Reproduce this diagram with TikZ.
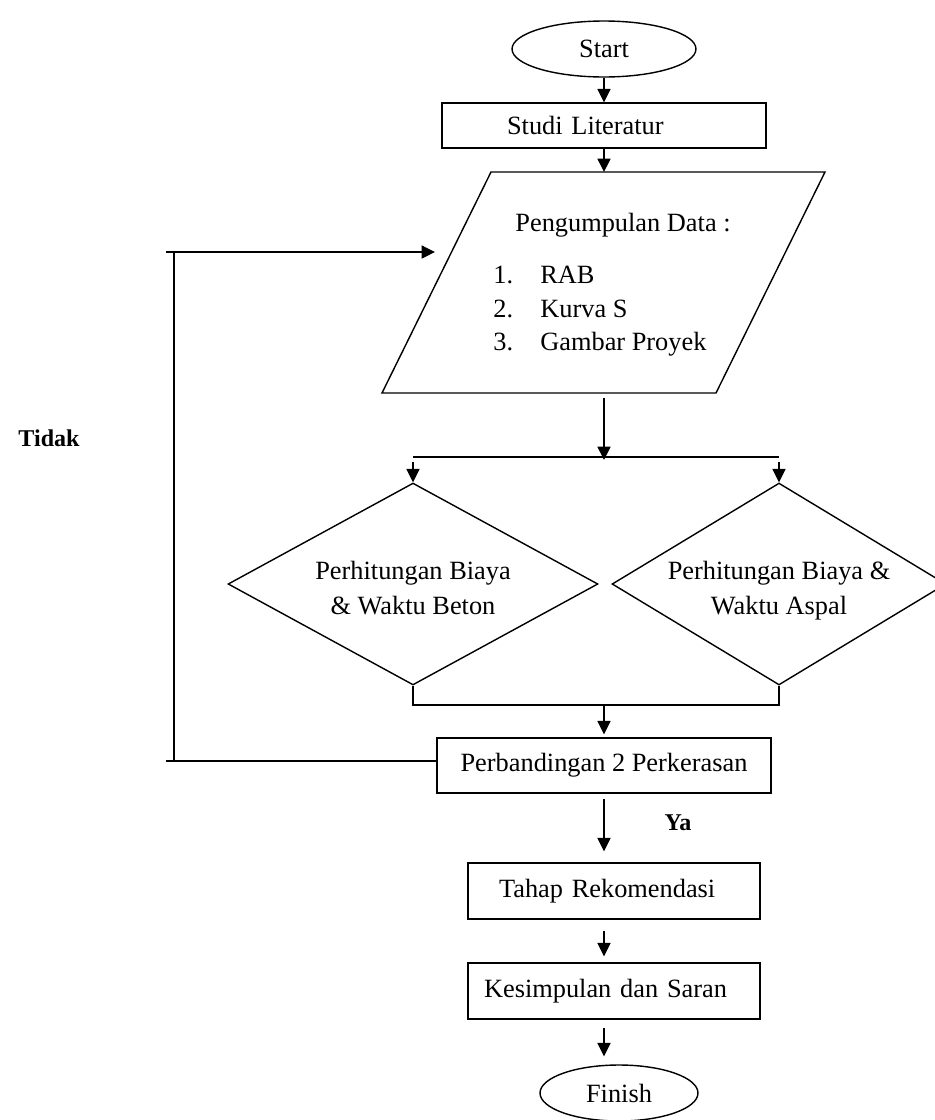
\documentclass[tikz,border=0pt]{standalone}
\usepackage{fontspec}
\setmainfont{Liberation Serif}
\usetikzlibrary{arrows.meta, shapes.geometric}
\newcommand{\fsz}{\fontsize{15}{19.5}\selectfont}
\newcommand{\fsl}{\fontsize{15}{19}\selectfont}
\newcommand{\fsb}{\fontsize{13.7}{16}\selectfont}
\tikzset{
  LN/.style={line width=0.8pt},
  AR/.style={line width=0.8pt, -{Triangle[length=7.6pt, width=7.4pt]}},
  TM/.style={draw, LN, ellipse, inner sep=0pt, font=\fsz},
  BX/.style={draw, LN, rectangle, inner sep=0pt, font=\fsz},
  DC/.style={draw, LN, diamond, inner sep=0pt, align=center, font=\fsz,
             text height=34.3pt, text depth=-4.3pt},
  LB/.style={font={\fsb\bfseries}},
}

\begin{document}
\begin{tikzpicture}[x=0.02cm, y=-0.02cm]
\useasboundingbox (0,0) rectangle (935,1120);

%% ================================================================
%%  START -- INPUT DATA
%% ================================================================
\coordinate (col) at (604,0);

\node[TM, minimum width=3.68cm, minimum height=1.12cm] (start) at (604,49) {Start};
\node[BX, minimum height=0.9cm, text width=3.88cm, inner xsep=1.3cm, align=left]
  (studi) at (604,125.5) {Studi Literatur};

% input parallelogram
\coordinate (dBL) at (382,393);
\coordinate (dTL) at (491,172);
\coordinate (dTR) at (825,172);
\coordinate (dBR) at (716,393);
\draw[LN] (dBL) -- (dTL) -- (dTR) -- (dBR) -- cycle;
\node[font=\fsz] (dtitle) at (623,225) {Pengumpulan Data :};
\node[font=\fsl, anchor=west, align=left, inner sep=0pt] (dlist) at (493,311.5)
  {\makebox[0.94cm][l]{1.}RAB\\ \makebox[0.94cm][l]{2.}Kurva S\\ \makebox[0.94cm][l]{3.}Gambar Proyek};

\draw[AR] (start.south) -- (studi.north);
\draw[AR] (studi.south) -- (dTL -| col);

%% ================================================================
%%  TWO CALCULATIONS
%% ================================================================
\coordinate (splitL) at (413,457);
\coordinate (splitR) at (779,457);

\node[DC, aspect=1.83, minimum width=7.4cm, minimum height=4.04cm] (beton) at (413,584)
  {Perhitungan Biaya\\ \& Waktu Beton};
\node[DC, aspect=1.65, minimum width=6.68cm, minimum height=4.04cm] (aspal) at (779,584)
  {Perhitungan Biaya \&\\ Waktu Aspal};

\draw[AR, shorten <=0.1cm, shorten >=-0.06cm] (dBL -| col) -- (splitL -| col);
\draw[LN] (splitL) -- (splitR);
\draw[AR, shorten <=0.1cm] (splitL) -- (beton.north);
\draw[AR, shorten <=0.1cm] (splitR) -- (aspal.north);

% join below
\coordinate (joinL) at (413,705);
\coordinate (joinR) at (779,705);
\draw[LN] (beton.south) -- (joinL) -- (joinR) -- (aspal.south);

%% ================================================================
%%  COMPARISON -- FINISH
%% ================================================================
\node[BX, minimum width=6.68cm, minimum height=1.1cm] (banding) at (604,765.5)
  {Perbandingan 2 Perkerasan};
\node[BX, minimum height=1.12cm, text width=4.6cm, inner xsep=0.62cm, align=left]
  (tahap) at (614,891) {Tahap Rekomendasi};
\node[BX, minimum height=1.12cm, text width=5.2cm, inner xsep=0.32cm, align=left]
  (kes) at (614,991) {Kesimpulan dan Saran};
\node[TM, minimum width=3.16cm, minimum height=1.12cm] (finish) at (619,1093) {Finish};

\draw[AR, shorten >=0.06cm] (joinL -| col) -- (banding.north);
\draw[AR, shorten <=0.1cm, shorten >=0.22cm] (banding.south -| col) -- (tahap.north -| col);
\draw[AR, shorten <=0.22cm, shorten >=0.12cm] (tahap.south -| col) -- (kes.north -| col);
\draw[AR, shorten <=0.16cm, shorten >=0.16cm] (kes.south -| col) -- (finish.north -| col);

\node[LB] (ya) at (678,823) {Ya};

% loop back
\coordinate (fbTL) at (166,252);
\coordinate (fbin) at (435,252);
\coordinate (fbV) at (174,252);
\coordinate (fbBL) at (166,761);
\draw[AR] (fbTL) -- (fbin);
\draw[LN] (fbV) -- (fbV |- fbBL);
\draw[LN] (banding.west |- fbBL) -- (fbBL);

\node[LB] (tidak) at (49,438) {Tidak};

\end{tikzpicture}
\end{document}
